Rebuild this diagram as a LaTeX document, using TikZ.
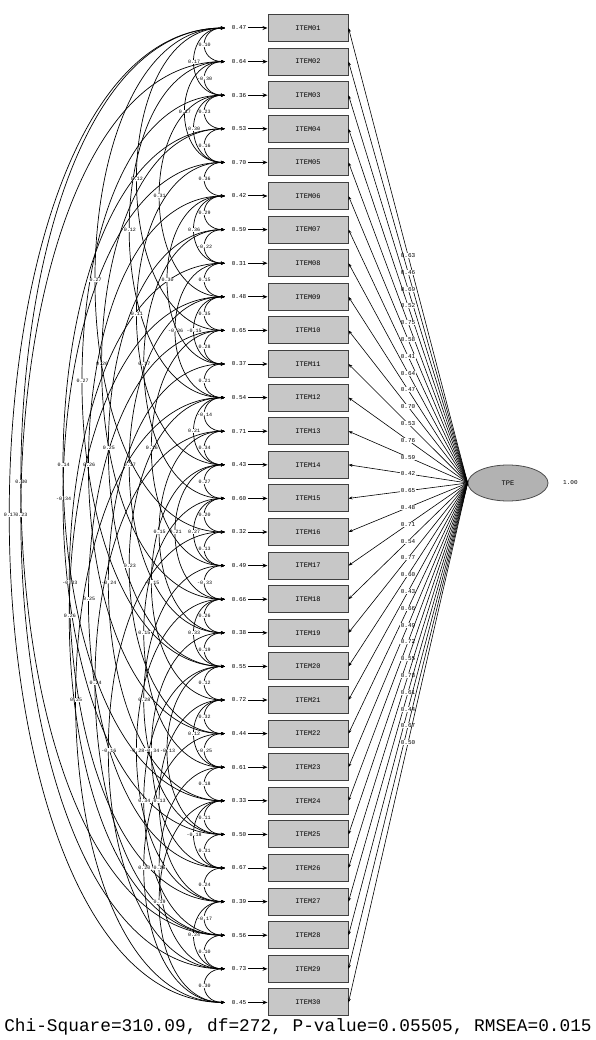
\documentclass[tikz,border=0pt]{standalone}
\usepackage{fontspec}
\setmonofont{Liberation Mono}
\usetikzlibrary{arrows.meta,shapes.geometric,calc}
\begin{document}
\begin{tikzpicture}[x=1pt,y=-1pt,
  obs/.style={draw=black!75, fill=black!22, line width=1pt, minimum width=80pt, minimum height=27pt, inner sep=0pt, font=\ttfamily\fontsize{7}{7}\selectfont},
  lat/.style={ellipse, draw=black!70, fill=black!30, line width=0.8pt, minimum width=80pt, minimum height=36pt, inner sep=0pt, font=\ttfamily\fontsize{7}{7}\selectfont},
  errlab/.style={font=\ttfamily\fontsize{6}{6}\selectfont, inner sep=1pt},
  loadlab/.style={font=\ttfamily\fontsize{6}{6}\selectfont, inner sep=0.5pt, fill=white},
  covlab/.style={font=\ttfamily\fontsize{5}{5}\selectfont, inner sep=0.3pt, fill=white},
  errarr/.style={-{Stealth[length=5pt,width=4pt]}, line width=1pt, shorten <=1pt},
  load/.style={-{Stealth[length=4pt,width=3pt]}, line width=0.6pt},
  cov/.style={{Stealth[length=4pt,width=3pt]}-{Stealth[length=4pt,width=3pt]}, line width=0.7pt},
  stat/.style={font=\ttfamily\fontsize{17.8}{17.8}\selectfont, inner sep=0pt}]
\useasboundingbox (0,0) rectangle (596,1040);
\node[lat] (F) at (508,483) {TPE};
\node[errlab, anchor=west] (Fv) at (562,483) {1.00};
\foreach \i in {1,...,30}{
  \pgfmathsetmacro\yy{28+33.6*(\i-1)}
  \pgfmathtruncatemacro\ev{30+mod(\i*17,45)}
  \pgfmathtruncatemacro\lv{40+mod(\i*23,40)}
  \node[obs] (b\i) at (308,\yy) {ITEM\ifnum\i<10 0\fi\i};
  \node[errlab] (e\i) at (239,\yy) {0.\ev};
  \coordinate (c\i) at (225,\yy);
  \draw[errarr] (e\i) -- (b\i);
  \draw[load] (F.west) -- (b\i.east);
  \node[loadlab] (l\i) at ($(b\i.east)!0.5!(F.west)$) {0.\lv};
}
\foreach \a/\b in {1/2,2/3,3/4,4/5,5/6,6/7,7/8,8/9,9/10,10/11,11/12,12/13,13/14,14/15,15/16,16/17,17/18,18/19,19/20,20/21,21/22,22/23,23/24,24/25,25/26,26/27,27/28,28/29,29/30,
  1/3,3/5,6/8,9/11,12/14,15/17,18/20,21/23,24/26,27/29,2/5,8/12,14/18,20/25,
  1/30,1/28,2/29,3/20,5/25,4/18,6/22,8/27,10/26,12/30,7/15,9/19,11/24,13/28,14/21,16/29,17/25,2/12,3/9,5/14,6/11,15/23,18/27,20/28,22/30,19/26,1/10,1/16,4/24,7/20,9/28,10/17,12/22,13/19,21/27,23/29,24/30}{
  \pgfmathsetmacro\L{(6+210*((\b-\a)/29)^0.8)/0.75/(0.3915*33.6*(\b-\a))}
  \pgfmathtruncatemacro\cv{mod(\a*13+\b*7,27)+10}
  \pgfmathtruncatemacro\sg{mod(\a+\b,5)}
  \draw[cov] (c\a) to[out=180,in=180,looseness=\L] node[covlab] (v\a x\b) {\ifnum\sg=0 -\fi0.\cv} (c\b);
}
\node[stat] (chi) at (298,1027) {Chi-Square=310.09, df=272, P-value=0.05505, RMSEA=0.015};
\end{tikzpicture}
\end{document}
